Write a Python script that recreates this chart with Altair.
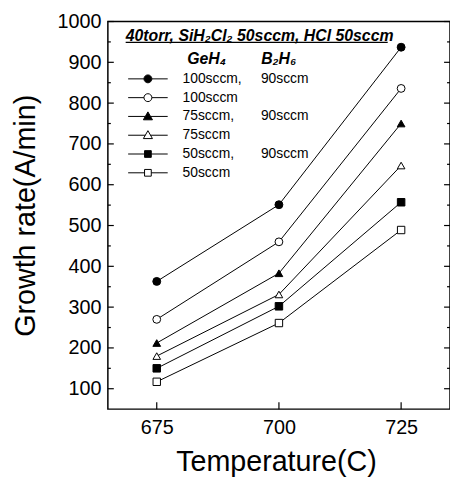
import altair as alt
import pandas as pd

NB = "\u00a0"
ZW = "\u200b"
temps = [675, 700, 725]
series_labels = [
    "100sccm," + NB * 5 + "90sccm",
    "100sccm",
    "75sccm," + NB * 7 + "90sccm",
    "75sccm",
    "50sccm," + NB * 7 + "90sccm",
    "50sccm",
]
rate_ge100_b2h6 = [363, 551, 937]
rate_ge100 = [270, 460, 836]
rate_ge75_b2h6 = [212, 383, 750]
rate_ge75 = [180, 331, 647]
rate_ge50_b2h6 = [150, 302, 557]
rate_ge50 = [117, 261, 489]
all_rates = [rate_ge100_b2h6, rate_ge100, rate_ge75_b2h6, rate_ge75, rate_ge50_b2h6, rate_ge50]

y_major = list(range(100, 1001, 100))
y_minor = list(range(150, 1000, 100))

legend_title = [
    "40torr, SiH\u2082Cl\u2082 50sccm, HCl 50sccm",
    ZW + NB * 14 + "GeH\u2084" + NB * 8 + "B\u2082H\u2086",
]

rows = []
for lab, vals in zip(series_labels, all_rates):
    for t, v in zip(temps, vals):
        rows.append({"series": lab, "temp": t, "rate": v})
df = pd.DataFrame(rows)

FONT = "Liberation Sans"
W, H = 346, 392

shapes = ["circle", "circle", "triangle-up", "triangle-up", "square", "square"]
fills = ["black", "white", "black", "white", "black", "white"]
strokes = ["black"] * 6
sizes = [64, 56, 90, 90, 49, 49]
legend_paths = [
    "M-5,0H-1M1,0H5M-1,0A1,1,0,1,1,1,0A1,1,0,1,1,-1,0Z",
    "M-5,0H-1M1,0H5M-1,0A1,1,0,1,1,1,0A1,1,0,1,1,-1,0Z",
    "M-5,0H-0.66M0.66,0H5M0,-1.15L1.15,0.85L-1.15,0.85Z",
    "M-5,0H-0.66M0.66,0H5M0,-1.15L1.15,0.85L-1.15,0.85Z",
    "M-5,0H-0.85M0.85,0H5M-0.85,-0.85H0.85V0.85H-0.85Z",
    "M-5,0H-0.85M0.85,0H5M-0.85,-0.85H0.85V0.85H-0.85Z",
]

xscale = alt.Scale(domain=[665, 735], nice=False, zero=False)
yscale = alt.Scale(domain=[50, 1000], nice=False, zero=False)

base = alt.Chart(df)

lines = base.mark_line(color="black", strokeWidth=1).encode(
    x=alt.X("temp:Q", scale=xscale, axis=alt.Axis(
        values=temps, ticks=False, tickSize=0, domain=False, grid=False, format="d",
        labelFont=FONT, labelFontSize=20, labelColor="black", labelPadding=9,
        title="Temperature(C)", titleFont=FONT, titleFontSize=29, titleFontWeight="normal",
        titleColor="black", titleX=170, titleY=62, titleBaseline="alphabetic", titleAlign="center")),
    y=alt.Y("rate:Q", scale=yscale, axis=alt.Axis(
        values=y_major, ticks=False, tickSize=0, domain=False, grid=False, format="d",
        labelFont=FONT, labelFontSize=20, labelColor="black", labelPadding=7,
        title="Growth rate(A/min)", titleFont=FONT, titleFontSize=29, titleFontWeight="normal",
        titleColor="black", titleX=-74, titleY=196, titleAngle=-90,
        titleBaseline="alphabetic", titleAlign="center")),
    detail="series:N",
)

points = base.mark_point(filled=True, stroke="black", strokeWidth=1, opacity=1).encode(
    x=alt.X("temp:Q", scale=xscale, axis=None),
    y=alt.Y("rate:Q", scale=yscale, axis=None),
    shape=alt.Shape("series:N", scale=alt.Scale(domain=series_labels, range=shapes), legend=None),
    fill=alt.Fill("series:N", scale=alt.Scale(domain=series_labels, range=fills), legend=None),
    size=alt.Size("series:N", scale=alt.Scale(domain=series_labels, range=sizes), legend=None),
)

leg = alt.Legend(
    orient="none", legendX=18, legendY=7, padding=0,
    title=legend_title, titleFont=FONT, titleFontSize=16, titleFontStyle="italic",
    titleFontWeight="bold", titleColor="black", titleLineHeight=23, titlePadding=5,
    titleAnchor="start", titleLimit=500,
    labelFont=FONT, labelFontSize=14, labelColor="black", labelLimit=400,
    labelOffset=28, symbolOffset=15.5, symbolSize=64, symbolStrokeWidth=1,
    symbolOpacity=1, rowPadding=5,
)

legend_layer = base.mark_point(filled=False, strokeWidth=1, opacity=0).encode(
    x=alt.X("temp:Q", scale=xscale, axis=None),
    y=alt.Y("rate:Q", scale=yscale, axis=None),
    shape=alt.Shape("series:N", scale=alt.Scale(domain=series_labels, range=legend_paths), legend=leg),
    fill=alt.Fill("series:N", scale=alt.Scale(domain=series_labels, range=fills), legend=leg),
    stroke=alt.Stroke("series:N", scale=alt.Scale(domain=series_labels, range=strokes), legend=leg),
)

underline = alt.Chart(pd.DataFrame({"u": [0]})).mark_rule(color="black", strokeWidth=1.3).encode(
    x=alt.value(18), x2=alt.value(283), y=alt.value(21)
)

# inward tick marks along the frame, positioned by the shared scales
def ytick_layer(vals, x0, x1):
    return alt.Chart(pd.DataFrame({"rate": vals})).mark_rule(color="black", strokeWidth=1.2).encode(
        y=alt.Y("rate:Q", scale=yscale, axis=None), x=alt.value(x0), x2=alt.value(x1)
    )

tick_layers = [
    ytick_layer(y_major, 0, 6),
    ytick_layer(y_minor, 0, 3),
    ytick_layer(y_major, W, W - 6),
    ytick_layer(y_minor, W, W - 3),
    alt.Chart(pd.DataFrame({"temp": temps})).mark_rule(color="black", strokeWidth=1.2).encode(
        x=alt.X("temp:Q", scale=xscale, axis=None), y=alt.value(H), y2=alt.value(H - 7)
    ),
]

chart = alt.layer(lines, points, legend_layer, underline, *tick_layers).resolve_scale(
    shape="independent", fill="independent", size="independent", stroke="independent"
).resolve_axis(
    x="independent", y="independent"
).properties(
    width=W, height=H,
    autosize=alt.AutoSizeParams(type="none"),
    padding={"left": 101, "top": 11, "right": 0, "bottom": 68},
).configure_view(
    stroke="black", strokeWidth=1.5
).configure_axis(grid=False)

chart.save("out.html", embed_options={"renderer": "svg", "actions": False})
